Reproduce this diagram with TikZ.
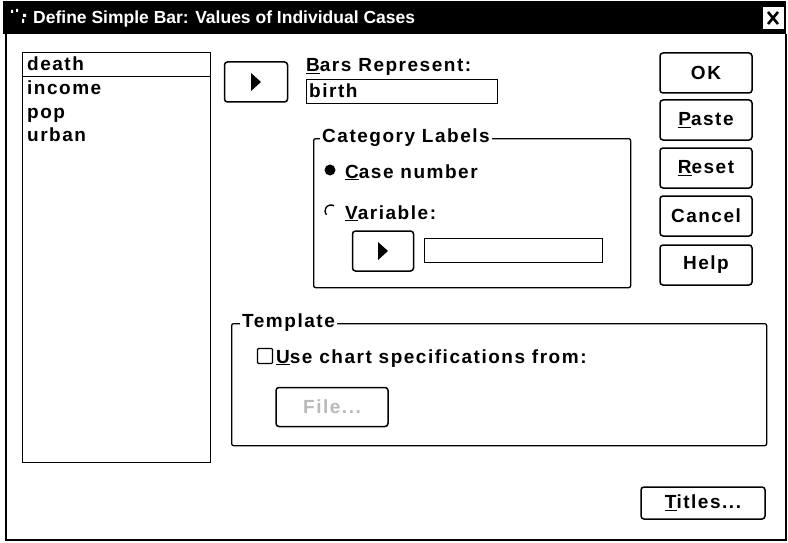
\documentclass[tikz,border=0pt]{standalone}
\usepackage{fontspec}
\setmainfont{Liberation Sans}
\newfontfamily\uifont{Liberation Sans}[LetterSpace=8]
\newfontfamily\titlefont{Liberation Sans}
\newcommand\uitext{\uifont\bfseries\fontsize{19}{22}\selectfont}
\newcommand\ulk[1]{\underline{#1}}
\begin{document}
\begin{tikzpicture}[x=1pt,y=-1pt,
  every node/.style={inner sep=0pt, font=\uitext},
  btn/.style={draw, line width=1.5pt, rounded corners=3pt, fill=white},
  field/.style={draw, line width=1.3pt},
  group/.style={draw, line width=1.3pt, rounded corners=2pt},
  grouplabel/.style={fill=white, anchor=west, inner xsep=2pt},
  item/.style={anchor=base west}]
\useasboundingbox[fill=white] (0,0) rectangle (788,543);

% title bar and window frame
\fill[black] (3,1) rectangle (786,34);
\node[anchor=base west, text=white, font=\titlefont\bfseries\fontsize{17.5}{20}\selectfont] (title) at (33,24) {Define Simple Bar: Values of Individual Cases};
\fill[white] (11,10) rectangle (13,13) (16,9) rectangle (18,12) (23,14) rectangle (26,17) (22,19) rectangle (24,23);
\node[fill=white, minimum width=21pt, minimum height=22pt] (close) at (773,18) {};
\draw[line width=2.6pt] ([shift={(-5,-6)}]close.center) -- ([shift={(5,6)}]close.center)
                        ([shift={(5,-6)}]close.center) -- ([shift={(-5,6)}]close.center);
\draw[line width=1.5pt] (6,34) -- (6,540) -- (786,540) -- (786,34);

% source variable list
\node[field, anchor=north west, minimum width=188pt, minimum height=410pt] (list) at (22,52) {};
\node[draw, line width=1.2pt, anchor=north west, minimum width=188pt, minimum height=24pt] (deathrow) at (22,52) {};
\node[item] (death) at (27,71) {death};
\node[item] (income) at (27,95) {income};
\node[item] (pop) at (27,119) {pop};
\node[item] (urban) at (27,142) {urban};

% transfer button and target field
\node[btn, minimum width=63pt, minimum height=40pt] (arrowA) at (256,82) {};
\fill ([shift={(-5,-9)}]arrowA.center) -- ++(10,9) -- ++(-10,9) -- cycle;
\node[item] (barslbl) at (306,72) {\ulk{B}ars Represent:};
\node[field, anchor=north west, minimum width=191pt, minimum height=24pt] (barsfield) at (306,79) {};
\node[item] (birth) at (309,98) {birth};

% category labels group
\node[group, anchor=north west, minimum width=317pt, minimum height=149pt] (catbox) at (313,138) {};
\node[grouplabel] (catlbl) at (320,138) {Category Labels};
\fill (330,170) circle (5.5);
\node[item] (casenum) at (345,178) {\ulk{C}ase number};
\draw[line width=1.4pt] ([shift={(-60:6)}]331,211) arc[start angle=-60, end angle=-220, radius=6];
\node[item] (varlbl) at (345,219) {\ulk{V}ariable:};
\node[btn, minimum width=61pt, minimum height=40pt] (arrowB) at (383,251) {};
\fill ([shift={(-5,-9)}]arrowB.center) -- ++(10,9) -- ++(-10,9) -- cycle;
\node[field, anchor=north west, minimum width=178pt, minimum height=24pt] (varfield) at (424,238) {};

% command buttons
\node[btn, minimum width=92pt, minimum height=40pt] (ok) at (706,73) {OK};
\node[btn, minimum width=92pt, minimum height=40pt] (paste) at (706,120) {\ulk{P}aste};
\node[btn, minimum width=92pt, minimum height=40pt] (reset) at (706,168) {\ulk{R}eset};
\node[btn, minimum width=92pt, minimum height=40pt] (cancel) at (706,216) {Cancel};
\node[btn, minimum width=92pt, minimum height=40pt] (help) at (706,265) {Help};

% template group
\node[group, anchor=north west, minimum width=535pt, minimum height=122pt] (tmplbox) at (231,323) {};
\node[grouplabel] (tmpllbl) at (240,323) {Template};
\node[draw, line width=1.3pt, rounded corners=1pt, minimum size=15pt] (chk) at (265,356) {};
\node[item] (usechart) at (276,363) {\ulk{U}se chart specifications from:};
\node[btn, minimum width=112pt, minimum height=39pt, text=gray!55] (filebtn) at (332,407) {File...};

\node[btn, minimum width=124pt, minimum height=32pt] (titles) at (703,503) {\ulk{T}itles...};
\end{tikzpicture}
\end{document}
